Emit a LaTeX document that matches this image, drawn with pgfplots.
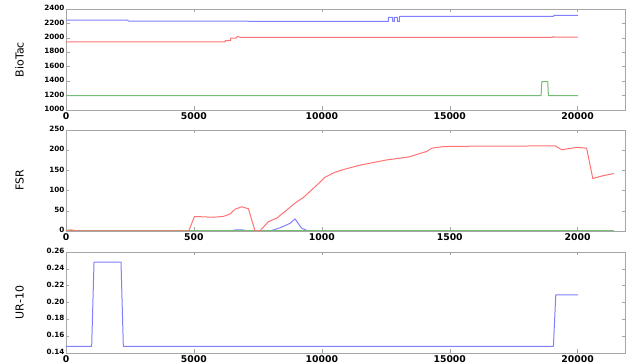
\documentclass[border=0pt]{standalone}
\usepackage{pgfplots}
\pgfplotsset{compat=1.18}
\usepackage{fontspec}
\setmainfont{DejaVu Sans}
\definecolor{lb}{rgb}{0.5,0.5,1}
\definecolor{lr}{rgb}{1,0.45,0.45}
\definecolor{lg}{rgb}{0.45,0.74,0.45}
\pgfplotsset{
  base/.style={
    scale only axis, width=559pt, height=101pt, anchor=south west,
    axis line style={gray!70, line width=0.6pt},
    major tick style={gray!70, line width=0.5pt}, major tick length=3.5pt,
    tick align=inside,
    /pgf/number format/assume math mode=true,
    yticklabel style={font=\bfseries\fontsize{7.2}{8}\selectfont, inner sep=1.5pt, yshift=1pt},
    xticklabel style={font=\bfseries\fontsize{9.3}{10}\selectfont, inner sep=2pt},
    every axis y label/.style={at={(axis description cs:-0.083,0.5)}, rotate=90, anchor=center, font=\fontsize{11}{12}\selectfont},
    scaled ticks=false,
    /pgf/number format/1000 sep={},
    clip=true,
    every axis plot/.append style={line width=1pt, line join=round, line cap=round},
  }
}
\begin{document}
\begin{tikzpicture}
\useasboundingbox (0,0) rectangle (629pt,364pt);
% BioTac
\begin{axis}[base, at={(66pt,254pt)},
  xmin=0, xmax=21850, ymin=1000, ymax=2400,
  xtick={0,5000,10000,15000,20000},
  ytick={1000,1200,1400,1600,1800,2000,2200,2400},
  ylabel={BioTac}]
\addplot[lb] coordinates {
(0,2245)(2400,2245)(2450,2232)(12600,2228)(12600,2285)(12770,2285)(12770,2228)(12835,2228)(12835,2285)(12952,2285)(12952,2228)(13030,2228)(13030,2297)(19050,2297)(19080,2312)(20000,2312)};
\addplot[lr] coordinates {
(0,1945)(6216,1945)(6216,1960)(6438,1960)(6438,1997)(6650,1997)(6700,2022)(6800,2008)(19000,2005)(19050,2018)(19100,2010)(20000,2010)};
\addplot[lg] coordinates {
(0,1200)(18570,1200)(18600,1395)(18830,1395)(18855,1198)(20000,1198)};
\end{axis}
% FSR
\begin{axis}[base, at={(66pt,133pt)},
  xmin=0, xmax=2185, ymin=0, ymax=250,
  xtick={0,500,1000,1500,2000},
  ytick={0,50,100,150,200,250},
  ylabel={FSR}]
\addplot[lb] coordinates {
(0,0)(641,0)(661,2.5)(693,2.5)(713,0)(797,0)(837,8)(876,19)(895,30)(921,7)(947,0)(2140,0)};
\addplot[lg] coordinates {(0,0)(2140,0)};
\addplot[lr] coordinates {
(0,1)(15,3)(30,2)(45,0)(480,0)(502,36)(576,34)(615,36)(641,42)(661,54)(687,60)(713,55)(739,0)(758,0)(791,23)(824,32)(863,52)(895,69)(928,83)(954,98)(993,121)(1012,133)(1050,145)(1084,152)(1149,163)(1254,176)(1338,183)(1410,197)(1430,205)(1475,209)(1605,210)(1736,210)(1912,211)(1938,201)(1996,207)(2035,205)(2059,130)(2100,137)(2140,142)};
\end{axis}
% UR-10
\begin{axis}[base, at={(66pt,11pt)},
  xmin=0, xmax=21850, ymin=0.14, ymax=0.26,
  xtick={0,5000,10000,15000,20000},
  ytick={0.14,0.16,0.18,0.20,0.22,0.24,0.26},
  yticklabel style={/pgf/number format/.cd, fixed, fixed zerofill, precision=2},
  ylabel={UR-10}]
\addplot[lb] coordinates {
(0,0.148)(1004,0.148)(1095,0.248)(2150,0.248)(2241,0.148)(19052,0.148)(19144,0.209)(20000,0.209)};
\end{axis}
\end{tikzpicture}
\end{document}
